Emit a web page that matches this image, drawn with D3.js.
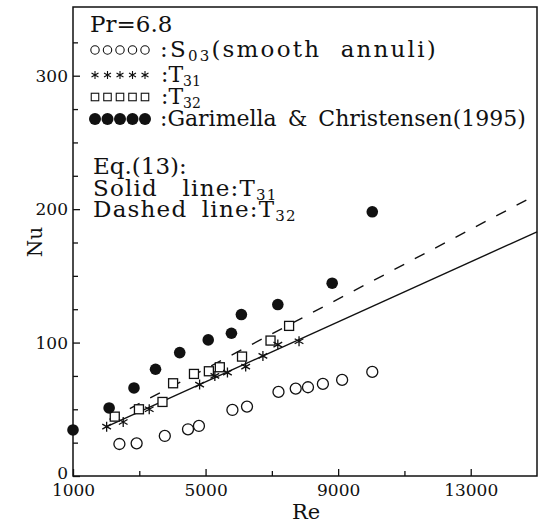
<!DOCTYPE html>
<html>
<head>
<meta charset="utf-8">
<script src="https://cdn.jsdelivr.net/npm/d3@7"></script>
<style>
  body { margin: 0; background: #fff; }
  text { font-family: "DejaVu Serif", serif; fill: #111; }
</style>
</head>
<body>
<div id="chart"></div>
<script>
// values: [Re, Nu]
const smooth = [[2400,24],[2920,24.5],[3770,30],[4470,35],[4800,37.5],[5810,49.5],[6250,52],[7200,63],[7720,65.5],[8090,66.5],[8540,69],[9120,72],[10030,78]];
const t31 = [[2015,37],[2515,40.5],[3300,50],[4820,68.5],[5280,75],[5660,77.5],[6210,82],[6730,90],[7180,98.5],[7820,101]];
const t32 = [[2260,44.5],[2990,50],[3700,55.5],[4020,69.5],[4650,76.5],[5100,78.5],[5430,81.5],[6100,89.5],[6960,101.5],[7520,112.5]];
const garimella = [[1000,34.5],[2090,51],[2840,66],[3490,80],[4220,92.5],[5080,102],[5780,107],[6080,121],[7180,128.5],[8820,144.5],[10030,198]];
const solidEq = [[2015,37],[15000,183]];
const dashedEq = [[2100,42.5],[15000,211]];

const xMajor = [1000, 5000, 9000, 13000];
const xMinor = [3000, 7000, 11000];
const yMajor = [0, 100, 200, 300];
const yMinor = [25, 50, 75, 125, 150, 175, 225, 250, 275, 325];

const W = 538, H = 525;
const pL = 73, pR = 537, pT = 9, pB = 476;

const svg = d3.select("#chart").append("svg")
  .attr("width", W).attr("height", H);

const x = d3.scaleLinear().domain([1000, 15000]).range([pL, pR]);
const y = d3.scaleLinear().domain([0, 350]).range([pB, pT]);

// frame
svg.append("rect")
  .attr("x", pL).attr("y", pT - 2)
  .attr("width", pR - pL).attr("height", pB - pT + 2)
  .attr("fill", "none").attr("stroke", "#111").attr("stroke-width", 1.5);

// axes with inward ticks
const xAxis = svg.append("g").attr("transform", `translate(0,${pB})`)
  .call(d3.axisBottom(x).tickValues(xMajor).tickSizeInner(-7).tickSizeOuter(0).tickPadding(6).tickFormat(d3.format("d")));
svg.append("g").attr("transform", `translate(0,${pB})`)
  .call(d3.axisBottom(x).tickValues(xMinor).tickSizeInner(-5).tickSizeOuter(0).tickFormat(""));
const yAxis = svg.append("g").attr("transform", `translate(${pL},0)`)
  .call(d3.axisLeft(y).tickValues(yMajor).tickSizeInner(-7).tickSizeOuter(0).tickPadding(5));
svg.append("g").attr("transform", `translate(${pL},0)`)
  .call(d3.axisLeft(y).tickValues(yMinor).tickSizeInner(-5).tickSizeOuter(0).tickFormat(""));

svg.selectAll(".domain").remove();
svg.selectAll(".tick line").attr("stroke", "#111").attr("stroke-width", 1.3);
svg.selectAll(".tick text").style("font-family", "DejaVu Serif, serif").style("font-size", "17px").attr("fill", "#111");
xAxis.selectAll(".tick text").attr("dy", "0.8em");
// the zero label sits a little above the axis
yAxis.selectAll(".tick text").filter(d => d === 0).attr("dy", "0.15em");

svg.append("text").attr("x", 306).attr("y", 519)
  .attr("text-anchor", "middle").style("font-size", "21px").text("Re");
svg.append("text").attr("transform", `translate(42,242) rotate(-90)`)
  .attr("text-anchor", "middle").style("font-size", "20px").text("Nu");

// equation lines
const line = d3.line().x(d => x(d[0])).y(d => y(d[1]));
svg.append("path").datum(solidEq).attr("d", line)
  .attr("fill", "none").attr("stroke", "#111").attr("stroke-width", 1.4);
svg.append("path").datum(dashedEq).attr("d", line)
  .attr("fill", "none").attr("stroke", "#111").attr("stroke-width", 1.4)
  .attr("stroke-dasharray", "11,12");

// marker helpers
function starPath(s) {
  const a = s / 2, b = a * 0.87, c = a * 0.5;
  return `M0,${-a}V${a}M${-b},${-c}L${b},${c}M${-b},${c}L${b},${-c}`;
}
function drawCircles(g, pts, r, sw) {
  g.selectAll(null).data(pts).join("circle")
    .attr("cx", d => d[0]).attr("cy", d => d[1]).attr("r", r)
    .attr("fill", "#fff").attr("stroke", "#111").attr("stroke-width", sw);
}
function drawStars(g, pts, s, sw) {
  g.selectAll(null).data(pts).join("path")
    .attr("transform", d => `translate(${d[0]},${d[1]})`)
    .attr("d", starPath(s))
    .attr("fill", "none").attr("stroke", "#111").attr("stroke-width", sw);
}
function drawSquares(g, pts, s, sw) {
  g.selectAll(null).data(pts).join("rect")
    .attr("x", d => d[0] - s / 2).attr("y", d => d[1] - s / 2)
    .attr("width", s).attr("height", s)
    .attr("fill", "#fff").attr("stroke", "#111").attr("stroke-width", sw);
}
function drawDots(g, pts, r) {
  g.selectAll(null).data(pts).join("circle")
    .attr("cx", d => d[0]).attr("cy", d => d[1]).attr("r", r)
    .attr("fill", "#111");
}
const px = data => data.map(d => [x(d[0]), y(d[1])]);

drawCircles(svg.append("g"), px(smooth), 5.5, 1.3);
drawSquares(svg.append("g"), px(t32), 9, 1.3);
drawStars(svg.append("g"), px(t31), 10, 1.3);
drawDots(svg.append("g"), px(garimella), 5.8);

// legend
const lg = svg.append("g");
const lx = 95, step = 12.5;
const row = cy => d3.range(5).map(i => [lx + i * step, cy]);
drawCircles(lg.append("g"), row(50), 4.2, 1.1);
drawStars(lg.append("g"), row(75), 8, 1.1);
drawSquares(lg.append("g"), row(97), 7.5, 1.1);
drawDots(lg.append("g"), row(119), 6);

function subLabel(tx, ty, pre, sub, size, opts = {}) {
  const t = lg.append("text").attr("x", tx).attr("y", ty).style("font-size", size + "px");
  if (opts.ls) t.attr("letter-spacing", opts.ls);
  t.append("tspan").attr("word-spacing", opts.ws || 0).text(pre);
  t.append("tspan").attr("dy", 4).style("font-size", Math.round(size * 0.64) + "px").text(sub);
  if (opts.post) t.append("tspan").attr("dy", -4).attr("word-spacing", opts.ws || 0).text(opts.post);
  return t;
}

lg.append("text").attr("x", 90).attr("y", 32).style("font-size", "23px").text("Pr=6.8");
subLabel(160, 57, ":S", "03", 23, { ls: 2.2, ws: 10, post: "(smooth annuli)" });
subLabel(161, 82, ":T", "31", 22);
subLabel(161, 104, ":T", "32", 22);
lg.append("text").attr("x", 160).attr("y", 126).style("font-size", "22px").attr("word-spacing", 4)
  .text(":Garimella & Christensen(1995)");
lg.append("text").attr("x", 93).attr("y", 174).style("font-size", "23px").text("Eq.(13):");
subLabel(93, 196, "Solid line:T", "31", 23, { ls: 1.2, ws: 16 });
subLabel(93, 217, "Dashed line:T", "32", 23, { ls: 1.2, ws: 6 });
</script>
</body>
</html>
